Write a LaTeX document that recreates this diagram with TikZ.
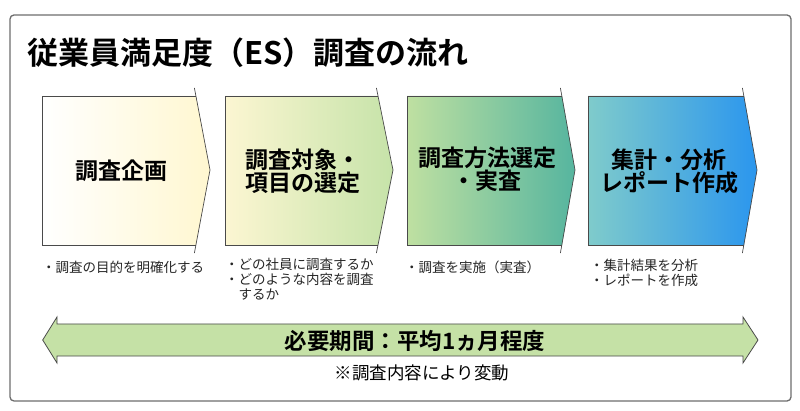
\documentclass[tikz,border=0pt]{standalone}
\usepackage{fontspec}
\setmainfont{Noto Sans CJK JP}[BoldFont={Noto Sans CJK JP Bold}]
\definecolor{framec}{HTML}{6E6E6E}
\definecolor{edgec}{HTML}{4A4A4A}
\definecolor{ca}{HTML}{FFFFFF}
\definecolor{cb}{HTML}{FFF7D0}
\definecolor{cc}{HTML}{FCF6D2}
\definecolor{cd}{HTML}{C6E3A9}
\definecolor{ce}{HTML}{BFE0A1}
\definecolor{cf}{HTML}{56B59F}
\definecolor{cg}{HTML}{7FCBCB}
\definecolor{ch}{HTML}{2B96EE}
\definecolor{arrowg}{HTML}{C5E1A6}
\newcommand\chevbox[5]{%
  \shade[left color=#4, right color=#5] (#1,96) -- (#2,96) -- (#3,170) -- (#2,245) -- (#1,245) -- cycle;
  \draw[boxline] (#2,96) -- (#1,96) -- (#1,245) -- (#2,245);
  \draw[boxline] (#2-1.6,88) -- (#3,170) -- (#2-1.6,253);
}
\begin{document}
\begin{tikzpicture}[x=1pt,y=-1pt,
  boxline/.style={draw=edgec, line width=0.7pt},
  boxtext/.style={font=\bfseries\fontsize{23}{23}\selectfont, align=center, inner sep=0pt, text=black},
  note/.style={font=\fontsize{13.5}{15}\selectfont, align=left, inner sep=0pt, anchor=north west, text=black!85}]
\useasboundingbox (0,0) rectangle (800,411);
\fill[white] (0,0) rectangle (800,411);
\draw[framec, line width=1.3pt, rounded corners=4pt] (10,15) rectangle (791,401);
\node[anchor=base west, inner sep=0pt, font=\bfseries\fontsize{31}{36}\selectfont] (title) at (27,65) {従業員満足度（ES）調査の流れ};
% chevrons
\chevbox{42}{196}{210}{ca}{cb}
\chevbox{225}{378}{393}{cc}{cd}
\chevbox{407}{562}{575}{ce}{cf}
\chevbox{588}{744}{757}{cg}{ch}
\node[boxtext] (t1) at (121,171) {調査企画};
\node[boxtext] (t2) at (303,171) {調査対象・\\項目の選定};
\node[boxtext] (t3) at (487,169) {調査方法選定\\・実査};
\node[boxtext] (t4) at (669,171) {集計・分析\\レポート作成};
% notes
\node[note] (n1) at (42,260.5) {・調査の目的を明確化する};
\node[note] (n2) at (225,257.5) {・どの社員に調査するか\\・どのような内容を調査\\\hspace*{1em}するか};
\node[note] (n3) at (405,261) {・調査を実施（実査）};
\node[note] (n4) at (590,258.5) {・集計結果を分析\\・レポートを作成};
% period arrow
\filldraw[fill=arrowg, draw=edgec, line width=0.8pt]
  (42.7,340) -- (57,317) -- (57,324) -- (743,324) -- (743,317) -- (758,340)
  -- (743,363) -- (743,356) -- (57,356) -- (57,363) -- cycle;
\node[inner sep=0pt, font=\bfseries\fontsize{22.5}{24}\selectfont] (period) at (415,341) {必要期間：平均1ヵ月程度};
\node[inner sep=0pt, font=\fontsize{17.5}{20}\selectfont] (remark) at (422,373) {※調査内容により変動};
\end{tikzpicture}
\end{document}
